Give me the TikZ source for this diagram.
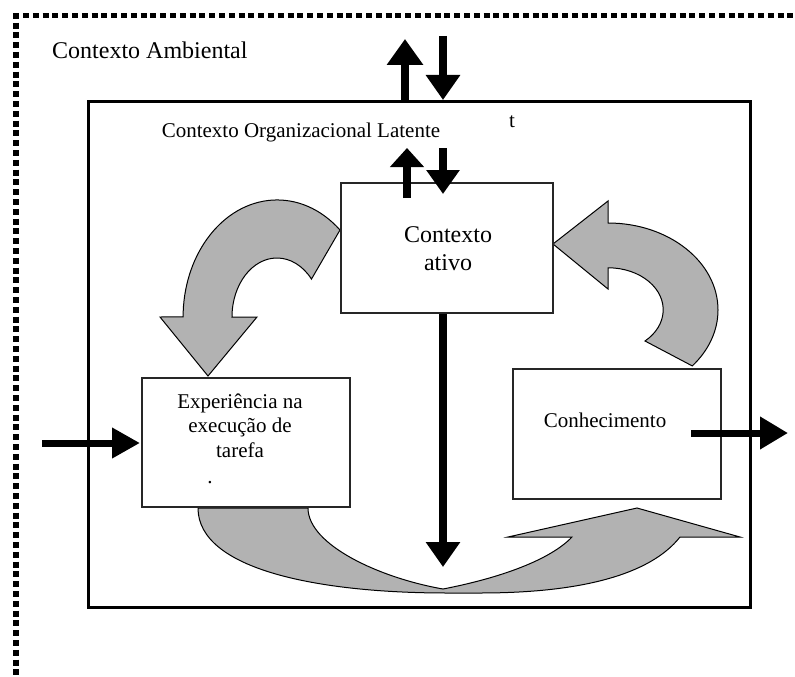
\documentclass[tikz,border=0pt]{standalone}
\usepackage{fontspec}
\setmainfont{Liberation Serif}
\usetikzlibrary{arrows.meta}
\begin{document}
\begin{tikzpicture}[x=1pt,y=-1pt,
  boxst/.style={draw=black!85,line width=1.2pt,fill=white,inner sep=0pt,minimum width=#1},
  grayarrow/.style={draw=black,line width=1pt,fill=black!30,line join=miter},
  blkarrow/.style={line width=#1,draw=black},
  txtA/.style={font=\fontsize{21}{24}\selectfont,anchor=base,inner sep=0pt},
  txtB/.style={font=\fontsize{24}{28}\selectfont,anchor=base,inner sep=0pt},
  dashborder/.style={line width=5.5pt,dash pattern=on 6pt off 3.8pt}
]
\useasboundingbox (0,0) rectangle (795,677);
% dashed environment border
\draw[dashborder] (13.2,15.5) -- (800,15.5);
\draw[dashborder] (16,12.8) -- (16,690);
% outer organisational box
\node[draw=black,line width=3pt,minimum width=662pt,minimum height=506pt,inner sep=0pt] (org) at (419,354) {};
% grey curved arrows
\draw[grayarrow] (340,230) arc[start angle=-48,end angle=-180,x radius=94,y radius=117]
  -- (160,317) -- (208,376) -- (257,317) -- (232,317)
  arc[start angle=-180,end angle=-40,x radius=45,y radius=59] -- cycle;
\draw[grayarrow] (608,223) arc[start angle=-90,end angle=40,x radius=110,y radius=87]
  -- (645,341) arc[start angle=48,end angle=-90,x radius=55,y radius=42]
  -- (608,289) -- (553,244) -- (608,201) -- cycle;
\draw[grayarrow] (198,508) .. controls (198,570) and (320,593) .. (447,593) -- (480,593)
  .. controls (580,593) and (650,575) .. (680,537) -- (740,537) -- (637,508) -- (508,537) -- (572,537)
  .. controls (550,560) and (500,578) .. (443,589)
  .. controls (380,578) and (308,545) .. (308,508) -- cycle;
% boxes
\node[boxst=212pt,minimum height=130pt] (ativo) at (447,248) {};
\node[boxst=208pt,minimum height=129pt] (exp) at (246,442.5) {};
\node[boxst=208pt,minimum height=130pt] (con) at (617,434) {};
% texts
\node[txtB,anchor=base west] (amb) at (52,59) {Contexto Ambiental};
\node[txtA] (lat) at (301,137) {Contexto Organizacional Latente};
\node[txtA] (tt) at (512,127) {t};
\node[txtB] (ta1) at (448,242) {Contexto};
\node[txtB] (ta2) at (448,270) {ativo};
\node[txtA] (te1) at (240,408) {Experiência na};
\node[txtA] (te2) at (240,432) {execução de};
\node[txtA] (te3) at (240,457) {tarefa};
\node[txtA] (te4) at (210,483) {.};
\node[txtA] (tc) at (605,427) {Conhecimento};
% connector end points
\coordinate (u1a) at (405,101); \coordinate (u1b) at (405,39);
\coordinate (d1a) at (443,36);  \coordinate (d1b) at (443,100);
\coordinate (u2a) at (407,198); \coordinate (u2b) at (407,148);
\coordinate (d2a) at (443,148); \coordinate (d2b) at (443,194);
\coordinate (bigb) at (443,567);
\coordinate (ina) at (42,443);  \coordinate (inb) at (140,443);
\coordinate (outa) at (691,433); \coordinate (outb) at (788,433);
% black arrows
\draw[blkarrow=8pt,-{Triangle[length=26pt,width=35pt]}] (u1a) -- (u1b);
\draw[blkarrow=8pt,-{Triangle[length=25pt,width=33pt]}] (d1a) -- (d1b);
\draw[blkarrow=8pt,-{Triangle[length=19pt,width=33pt]}] (u2a) -- (u2b);
\draw[blkarrow=8pt,-{Triangle[length=24pt,width=32pt]}] (d2a) -- (d2b);
\draw[blkarrow=8pt,-{Triangle[length=25pt,width=33pt]}] (ativo.south -| bigb) -- (bigb);
\draw[blkarrow=7pt,-{Triangle[length=28pt,width=29pt]}] (ina) -- (inb);
\draw[blkarrow=7pt,-{Triangle[length=28pt,width=31pt]}] (outa) -- (outb);
\end{tikzpicture}
\end{document}
